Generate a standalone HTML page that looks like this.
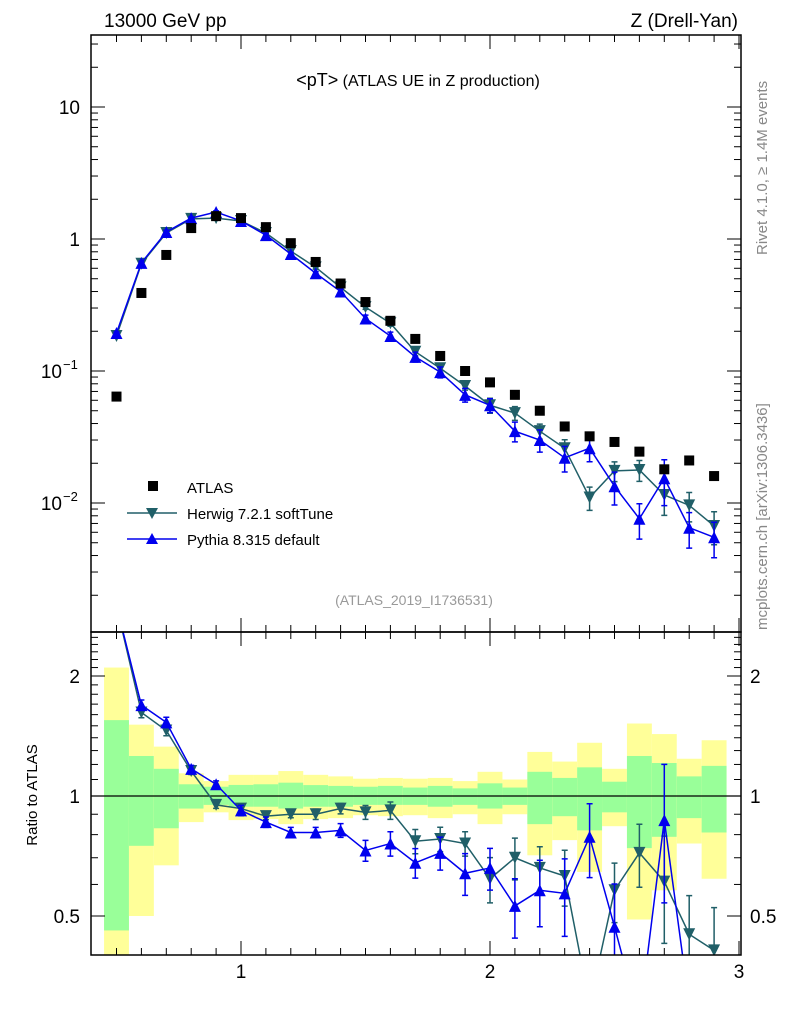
<!DOCTYPE html>
<html><head><meta charset="utf-8"><style>
html,body{margin:0;padding:0;background:#fff;width:786px;height:1024px;overflow:hidden;}
svg{display:block;font-family:"Liberation Sans",sans-serif;}
</style></head><body>
<svg id="c" width="786" height="1024" viewBox="0 0 786 1024">
<defs>
<clipPath id="cm"><rect x="91" y="35" width="650" height="597"/></clipPath>
<clipPath id="cr"><rect x="91" y="632" width="650" height="323"/></clipPath>
</defs>
<g id="bands" clip-path="url(#cr)"></g>
<g id="grid"></g>
<g id="mainSeries" clip-path="url(#cm)"></g>
<g id="ratioSeries" clip-path="url(#cr)"></g>
<rect x="91" y="35" width="650" height="597" fill="none" stroke="#000" stroke-width="1.5"/>
<rect x="91" y="632" width="650" height="323" fill="none" stroke="#000" stroke-width="1.5"/>
<text x="104" y="27" font-size="19">13000 GeV pp</text>
<text x="738" y="27" font-size="19" text-anchor="end">Z (Drell-Yan)</text>
<text x="418" y="86" font-size="16" text-anchor="middle"><tspan font-size="18">&lt;pT&gt;</tspan> (ATLAS UE in Z production)</text>
<text x="414" y="605" font-size="14" fill="#999" text-anchor="middle">(ATLAS_2019_I1736531)</text>
<text transform="translate(767,255) rotate(-90)" font-size="15" fill="#888">Rivet 4.1.0, ≥ 1.4M events</text>
<text transform="translate(767,630) rotate(-90)" font-size="15" fill="#888">mcplots.cern.ch [arXiv:1306.3436]</text>
<text transform="translate(37,795) rotate(-90)" font-size="15" text-anchor="middle">Ratio to ATLAS</text>
<g>
<rect x="148" y="481" width="10" height="10" fill="#000"/>
<text x="187" y="493" font-size="15">ATLAS</text>
<line x1="127" y1="513" x2="177" y2="513" stroke="#205f68" stroke-width="1.5"/>
<path d="M146,508 L158,508 L152,519 Z" fill="#205f68"/>
<text x="187" y="519" font-size="15">Herwig 7.2.1 softTune</text>
<line x1="127" y1="539" x2="177" y2="539" stroke="#0000ee" stroke-width="1.5"/>
<path d="M146,544 L158,544 L152,533 Z" fill="#0000ee"/>
<text x="187" y="545" font-size="15">Pythia 8.315 default</text>
</g>
</svg>
<script>
const xBins=[0.5,0.6,0.7,0.8,0.9,1.0,1.1,1.2,1.3,1.4,1.5,1.6,1.7,1.8,1.9,2.0,2.1,2.2,2.3,2.4,2.5,2.6,2.7,2.8,2.9];
const atlasVals=[0.064,0.39,0.757,1.21,1.49,1.44,1.23,0.93,0.67,0.46,0.333,0.24,0.175,0.13,0.1,0.082,0.066,0.05,0.038,0.032,0.029,0.0245,0.018,0.021,0.016];
const herwigVals=[0.184,0.65,1.11,1.42,1.44,1.37,1.11,0.81,0.61,0.43,0.305,0.23,0.14,0.105,0.077,0.055,0.048,0.035,0.026,0.011,0.0175,0.0178,0.0115,0.0096,0.0067];
const pythiaVals=[0.194,0.66,1.13,1.44,1.6,1.37,1.07,0.77,0.55,0.40,0.25,0.184,0.128,0.098,0.066,0.055,0.035,0.03,0.022,0.026,0.0134,0.0076,0.0154,0.0065,0.0055];
const herwigRatio=[3.0,1.62,1.46,1.155,0.95,0.93,0.89,0.90,0.90,0.93,0.91,0.92,0.77,0.78,0.76,0.62,0.70,0.66,0.63,0.3,0.58,0.72,0.61,0.45,0.41];
const pythiaRatio=[3.0,1.69,1.53,1.17,1.07,0.92,0.86,0.81,0.81,0.82,0.73,0.76,0.68,0.72,0.64,0.66,0.53,0.58,0.57,0.79,0.47,0.25,0.87,0.3,0.3];
const herwigRelErr=[0.02,0.03,0.03,0.02,0.02,0.02,0.02,0.02,0.03,0.03,0.04,0.05,0.07,0.07,0.07,0.13,0.12,0.13,0.16,0.2,0.17,0.18,0.3,0.25,0.28];
const pythiaRelErr=[0.02,0.03,0.03,0.02,0.02,0.03,0.03,0.03,0.03,0.04,0.06,0.07,0.085,0.095,0.12,0.12,0.17,0.19,0.22,0.21,0.28,0.3,0.38,0.3,0.3];
const yellowHi=[2.1,1.51,1.33,1.14,1.09,1.13,1.13,1.155,1.13,1.12,1.105,1.11,1.105,1.11,1.09,1.15,1.10,1.29,1.22,1.36,1.17,1.52,1.43,1.24,1.38];
const yellowLo=[0.35,0.50,0.67,0.86,0.91,0.87,0.875,0.85,0.875,0.88,0.895,0.89,0.895,0.88,0.9,0.85,0.9,0.71,0.775,0.645,0.84,0.49,0.58,0.76,0.62];
const greenHi=[1.55,1.26,1.17,1.07,1.055,1.066,1.07,1.08,1.065,1.06,1.055,1.06,1.05,1.06,1.045,1.076,1.05,1.15,1.11,1.18,1.086,1.26,1.21,1.12,1.19];
const greenLo=[0.46,0.75,0.83,0.93,0.95,0.94,0.94,0.93,0.94,0.94,0.95,0.95,0.95,0.94,0.95,0.93,0.95,0.85,0.89,0.82,0.91,0.74,0.79,0.88,0.81];
const xTickLabels=["1","2","3"];
const ratioTickLabels=["0.5","1","2"];

const NS="http://www.w3.org/2000/svg";
const X=v=>-8+249*v;
const YM=v=>Math.min(1020,Math.max(5,239-132*Math.log10(v)));
const YR=v=>Math.min(1020,Math.max(560,796-120*Math.log2(v)));
function mk(tag,attrs,parent){const e=document.createElementNS(NS,tag);for(const k in attrs)e.setAttribute(k,attrs[k]);parent.appendChild(e);return e;}
const G=id=>document.getElementById(id);

const bands=G('bands');
xBins.forEach((x,i)=>{
  const x0=X(x-0.05),x1=X(x+0.05);
  const y=mk('rect',{x:x0,y:YR(yellowHi[i]),width:x1-x0,height:YR(yellowLo[i])-YR(yellowHi[i]),fill:'#ffff99'},bands);
  
  
  const g=mk('rect',{x:x0,y:YR(greenHi[i]),width:x1-x0,height:YR(greenLo[i])-YR(greenHi[i]),fill:'#99ff99'},bands);
  
  
});

const grid=G('grid');
const ln=(x1,y1,x2,y2,w)=>mk('line',{x1,y1,x2,y2,stroke:'#000','stroke-width':w||1},grid);
mk('line',{x1:91,y1:YR(1),x2:741,y2:YR(1),stroke:'#000','stroke-width':1.3},grid);
for(let k=4;k<=30;k++){const v=k/10,x=X(v);if(x<92||x>740)continue;const maj=k%10==0;
  const L=maj?14:7;
  ln(x,632,x,632-L);ln(x,632,x,632+L);ln(x,955,x,955-L);ln(x,35,x,35+L);}
xTickLabels.forEach(t=>{const e=mk('text',{x:X(+t),y:978,'font-size':19,'text-anchor':'middle'},grid);e.textContent=t;
  
  });
for(let d=-3;d<=1;d++)for(let m=1;m<=9;m++){const v=m*Math.pow(10,d),y=239-132*Math.log10(v);if(y<36||y>631)continue;
  const L=m==1?14:7;ln(91,y,91+L,y);ln(741,y,741-L,y);}
[[10,"10"],[1,"1"]].forEach(([v,t])=>{const e=mk('text',{x:80,y:YM(v)+7,'font-size':19,'text-anchor':'end'},grid);e.textContent=t;
  
  });
[[0.1,"−1"],[0.01,"−2"]].forEach(([v,t])=>{const e=mk('text',{x:62,y:YM(v)+7,'font-size':19,'text-anchor':'end'},grid);e.textContent='10';
  
  
  const s=mk('text',{x:63,y:YM(v)-2,'font-size':13},grid);s.textContent=t;
  
  });
for(let k=4;k<=25;k++){const v=k/10,y=796-120*Math.log2(v);if(y<633||y>954)continue;const maj=(k==5||k==10||k==20);
  const L=maj?14:7;ln(91,y,91+L,y);ln(741,y,741-L,y);}
ratioTickLabels.forEach(t=>{[[80,'end'],[750,'start']].forEach(([x,a])=>{const e=mk('text',{x,y:YR(+t)+7,'font-size':19,'text-anchor':a},grid);e.textContent=t;
  
  });});

function tri(par,x,y,down,col){const s=6;const p=down?`M${x-s},${y-s} L${x+s},${y-s} L${x},${y+s} Z`:`M${x-s},${y+s} L${x+s},${y+s} L${x},${y-s} Z`;return mk('path',{d:p,fill:col},par);}
function series(par,vals,errs,Y,col,down,name){
  const pts=xBins.map((x,i)=>X(x)+','+Y(vals[i])).join(' ');
  const l=mk('polyline',{points:pts,fill:'none',stroke:col,'stroke-width':1.5},par);
  
  
  xBins.forEach((x,i)=>{const v=vals[i],e=errs[i]*v,cx=X(x);
    const y1=Y(v+e),y2=Y(Math.max(v-e,1e-6));
    const b=mk('path',{d:`M${cx},${y1} L${cx},${y2} M${cx-3},${y1} L${cx+3},${y1} M${cx-3},${y2} L${cx+3},${y2}`,stroke:col,'stroke-width':1.5,fill:'none'},par);
    
    
    const m=tri(par,cx,Y(v),down,col);
    
    });
}
const ms=G('mainSeries');
series(ms,herwigVals,herwigRelErr,YM,'#205f68',true,'herwig');
series(ms,pythiaVals,pythiaRelErr,YM,'#0000ee',false,'pythia');
xBins.forEach((x,i)=>{const r=mk('rect',{x:X(x)-5,y:YM(atlasVals[i])-5,width:10,height:10,fill:'#000'},ms);
  
  });
const rs=G('ratioSeries');
series(rs,herwigRatio,herwigRelErr,YR,'#205f68',true,'herwig-ratio');
series(rs,pythiaRatio,pythiaRelErr,YR,'#0000ee',false,'pythia-ratio');
</script>
</body></html>
